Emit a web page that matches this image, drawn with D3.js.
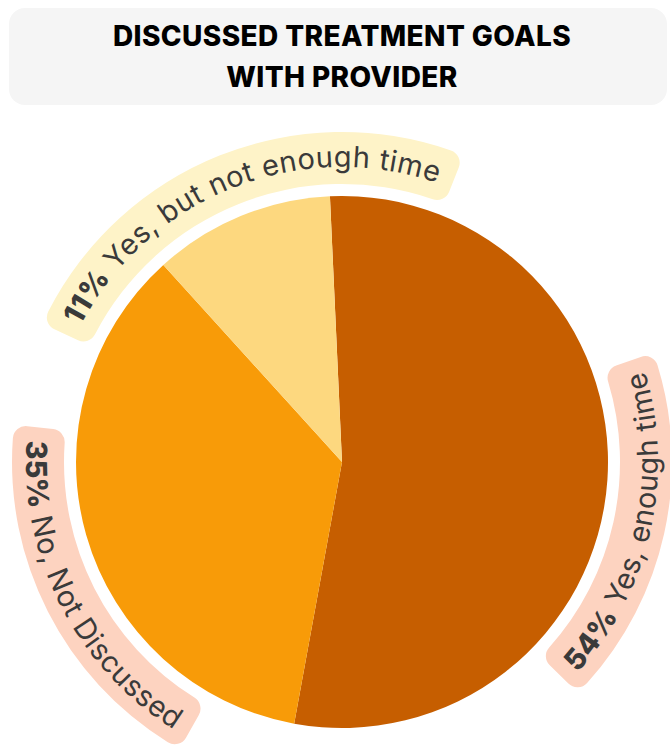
<!DOCTYPE html>
<html>
<head>
<meta charset="utf-8">
<script src="https://cdn.jsdelivr.net/npm/d3@7"></script>
<style>
  body { margin: 0; background: #fff; }
  svg { display: block; }
</style>
</head>
<body>
<div id="chart"></div>
<script>
// data
const categories = ["Yes, enough time", "No, Not Discussed", "Yes, but not enough time"];
const shares = [53.6, 35.4, 11.0];
const shareLabels = ["54%", "35%", "11%"];
const sliceColors = ["#C65E00", "#F89B08", "#FDD87F"];
const bandColors = ["#FDD3C0", "#FDD3C0", "#FEF3C8"];
const titleLines = ["DISCUSSED TREATMENT GOALS", "WITH PROVIDER"];

function createChart() {
    const width = 670;
    const height = 750;
    const cx = 342, cy = 462, radius = 266;
    const deg = Math.PI / 180;
    const font = "Inter, 'Open Sans', sans-serif";

    const svg = d3.select("#chart")
        .append("svg")
        .attr("width", width)
        .attr("height", height);

    // title box
    svg.append("rect")
        .attr("x", 9).attr("y", 8)
        .attr("width", 658).attr("height", 97)
        .attr("rx", 16)
        .attr("fill", "#f5f5f5");

    svg.selectAll("text.title")
        .data(titleLines)
        .enter().append("text")
        .attr("class", "title")
        .attr("x", 342)
        .attr("y", function(d, i) { return 46 + i * 41; })
        .attr("text-anchor", "middle")
        .style("font-family", font)
        .style("font-size", "28px")
        .style("font-weight", 800)
        .style("letter-spacing", "0.4px")
        .style("fill", "#000")
        .text(function(d) { return d; });

    const g = svg.append("g")
        .attr("transform", "translate(" + cx + "," + cy + ")");

    const start = -2.6 * deg;
    const pie = d3.pie().sort(null).startAngle(start).endAngle(start + 2 * Math.PI);
    const arcs = pie(shares);
    const arc = d3.arc().innerRadius(0).outerRadius(radius);

    g.selectAll("path.slice")
        .data(arcs)
        .enter().append("path")
        .attr("class", "slice")
        .attr("d", arc)
        .attr("fill", function(d, i) { return sliceColors[i]; });

    // curved labels: centre angle (deg) and whether text runs clockwise
    const labelLayout = [
        { angle: 102.5, cw: false },
        { angle: 243, cw: false },
        { angle: 338.2, cw: true }
    ];
    const bandInner = 278, bandOuter = 330;

    function point(r, a) { return [r * Math.sin(a), -r * Math.cos(a)]; }

    labelLayout.forEach(function(lay, i) {
        const a = lay.angle * deg;
        const r = lay.cw ? 295 : 316;
        const a0 = a - 85 * deg, a1 = a + 85 * deg;
        const p0 = point(r, a0), p1 = point(r, a1);
        const d = lay.cw
            ? "M" + p0 + "A" + r + "," + r + " 0 0 1 " + p1
            : "M" + p1 + "A" + r + "," + r + " 0 0 0 " + p0;

        g.append("path").attr("id", "lp" + i).attr("d", d).attr("fill", "none");

        const band = g.append("path").attr("fill", bandColors[i]);

        const text = g.append("text")
            .style("font-family", font)
            .style("font-size", "29px")
            .style("letter-spacing", "0.5px")
            .style("fill", "#3a3a3a");
        const tp = text.append("textPath")
            .attr("href", "#lp" + i)
            .attr("startOffset", "50%")
            .attr("text-anchor", "middle");
        tp.append("tspan").style("font-weight", 800).text(shareLabels[i]);
        tp.append("tspan").text(" " + categories[i]);

        const len = text.node().getComputedTextLength();
        const half = (len / 2 + 14) / r;
        band.attr("d", d3.arc()
            .innerRadius(bandInner).outerRadius(bandOuter)
            .cornerRadius(13)
            .startAngle(a - half).endAngle(a + half)());
    });
}

document.addEventListener("DOMContentLoaded", createChart);
</script>
</body>
</html>
